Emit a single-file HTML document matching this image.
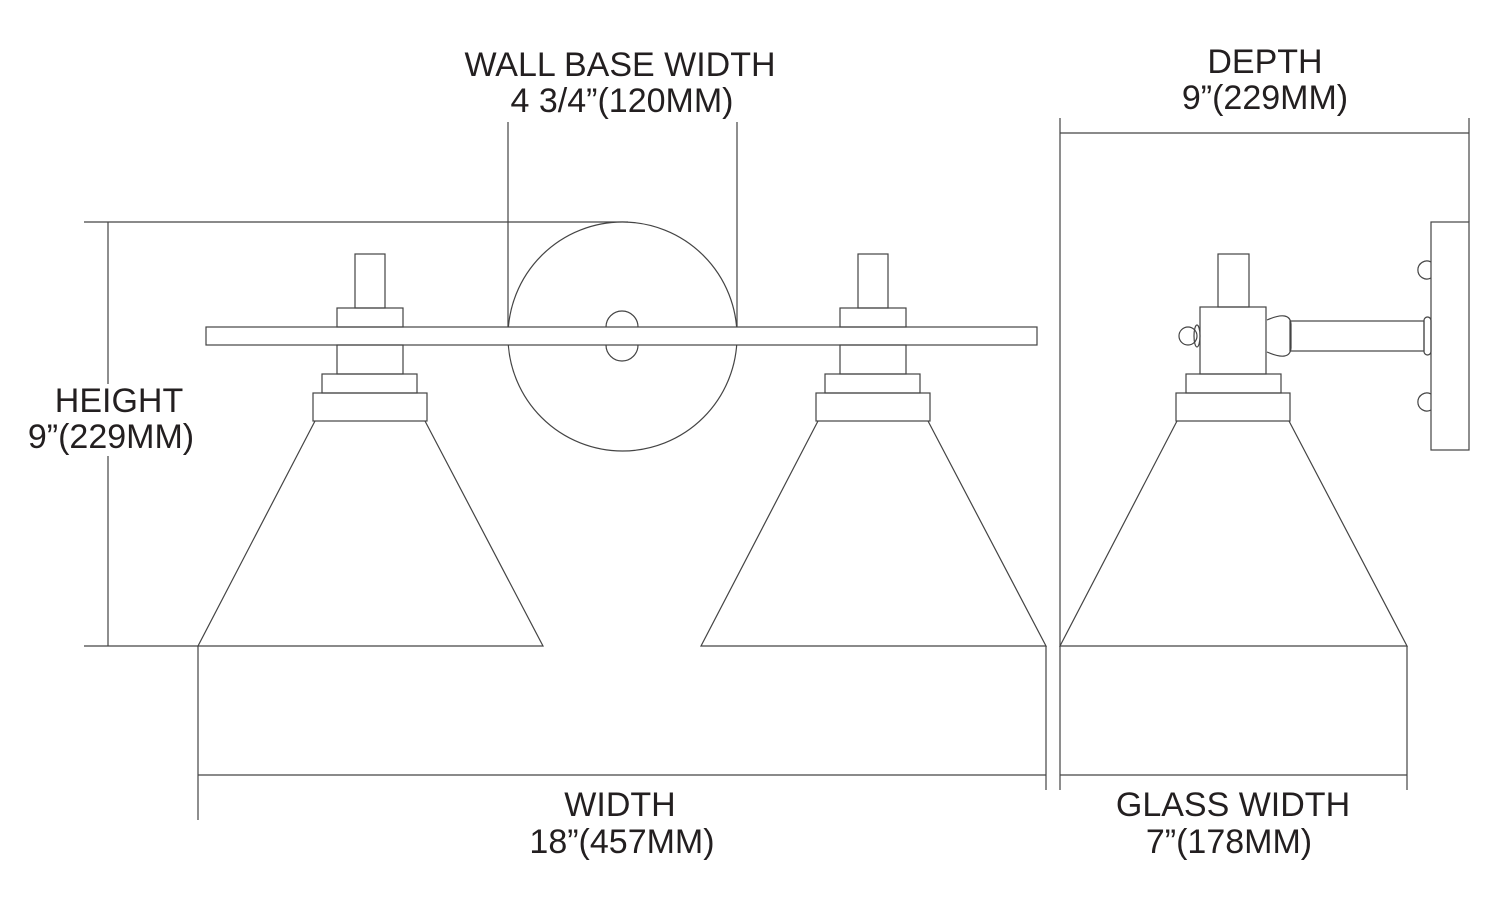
<!DOCTYPE html>
<html><head><meta charset="utf-8"><style>
html,body{margin:0;padding:0;background:#fff;}
svg{display:block;}
text{font-family:"Liberation Sans",Arial,sans-serif;font-size:34px;fill:#231f20;text-anchor:middle;}
</style></head><body>
<svg width="1500" height="911" viewBox="0 0 1500 911" xmlns="http://www.w3.org/2000/svg">
<g fill="none" stroke="#444" stroke-width="1.2">
<line x1="508" y1="122" x2="508" y2="345"/>
<line x1="737" y1="122" x2="737" y2="336"/>
<line x1="84" y1="222" x2="628" y2="222"/>
<line x1="84" y1="646" x2="198" y2="646"/>
<line x1="108" y1="222" x2="108" y2="384"/>
<line x1="108" y1="456" x2="108" y2="646"/>
<line x1="198" y1="646" x2="198" y2="820"/>
<line x1="1046" y1="646" x2="1046" y2="790"/>
<line x1="198" y1="775" x2="1046" y2="775"/>
<line x1="1060" y1="118" x2="1060" y2="790"/>
<line x1="1469" y1="118" x2="1469" y2="222"/>
<line x1="1060" y1="133" x2="1469" y2="133"/>
<line x1="1060" y1="775" x2="1407" y2="775"/>
<line x1="1407" y1="646" x2="1407" y2="790"/>
<circle cx="622.5" cy="336.5" r="114.5" fill="#fff"/>
<path d="M606 327 A16 16 0 0 1 638 327 M606 345 A16 16 0 0 0 638 345"/>
<rect x="206" y="327" width="831" height="18" fill="#fff"/>
<g id="lamp">
<rect x="355" y="254" width="30" height="54"/>
<rect x="337" y="308" width="66" height="19"/>
<rect x="337" y="345" width="66" height="29"/>
<rect x="322" y="374" width="95" height="19"/>
<rect x="313" y="393" width="114" height="28"/>
<path d="M315 421 L198 646 L543 646 L425 421"/>
</g>
<use href="#lamp" transform="translate(503,0)"/>
<rect x="1218" y="254" width="31" height="53"/>
<rect x="1200" y="307" width="66" height="67"/>
<rect x="1186" y="374" width="95" height="19"/>
<rect x="1176" y="393" width="114" height="28"/>
<path d="M1177 421 L1060 646 L1407 646 L1289 421"/>
<rect x="1431" y="222" width="38" height="228"/>
<path d="M1431 262 A9 9 0 1 0 1431 278"/>
<path d="M1431 394 A9 9 0 1 0 1431 410"/>
<rect x="1290" y="321" width="134" height="30"/>
<path d="M1267 320 Q1290 310 1291 324 L1291 348 Q1290 362 1267 352"/>
<rect x="1424" y="317" width="7" height="38" rx="3.5"/>
<circle cx="1188" cy="336" r="9" fill="#fff"/>
<ellipse cx="1197" cy="336" rx="3" ry="11"/>
</g>
<text x="620" y="76">WALL BASE WIDTH</text>
<text x="622" y="112">4 3/4”(120MM)</text>
<text x="1265" y="73">DEPTH</text>
<text x="1265" y="109">9”(229MM)</text>
<text x="119" y="412">HEIGHT</text>
<text x="111" y="448">9”(229MM)</text>
<text x="620" y="816">WIDTH</text>
<text x="622" y="853">18”(457MM)</text>
<text x="1233" y="816">GLASS WIDTH</text>
<text x="1229" y="853">7”(178MM)</text>
</svg>
</body></html>
